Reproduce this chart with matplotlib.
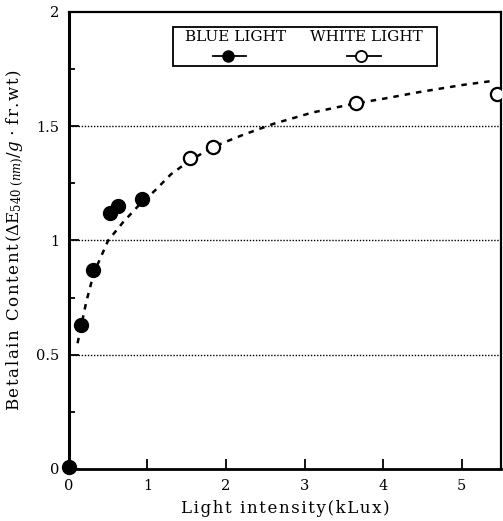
import numpy as np
import matplotlib.pyplot as plt
from matplotlib.lines import Line2D
from matplotlib.patches import Rectangle

plt.rcParams['font.family'] = ['DejaVu Serif']
plt.rcParams['mathtext.fontset'] = 'dejavuserif'

# data
blue_x = [0.0, 0.15, 0.31, 0.52, 0.62, 0.93]
blue_y = [0.01, 0.63, 0.87, 1.12, 1.15, 1.18]
white_x = [1.54, 1.84, 3.65, 5.45]
white_y = [1.36, 1.41, 1.60, 1.64]

# dashed fitted curve (traced)
curve_x = [0.11, 0.22, 0.32, 0.41, 0.50, 0.69, 0.88, 1.10, 1.30, 1.54, 1.84, 2.20, 2.60, 3.10, 3.65, 4.00, 4.47, 5.00, 5.43]
curve_y = [0.55, 0.73, 0.86, 0.93, 1.00, 1.08, 1.15, 1.22, 1.29, 1.35, 1.41, 1.46, 1.51, 1.56, 1.60, 1.62, 1.65, 1.68, 1.70]

grid_levels = [0.5, 1.0, 1.5]
xticks = [0, 1, 2, 3, 4, 5]
yticks = [0, 0.5, 1, 1.5, 2]
ytick_labels = ['0', '0.5', '1', '1.5', '2']


def spaced(s, sp='\u200a'):
    # the scanned labels are letter-spaced
    return sp.join(s)


fig = plt.figure(figsize=(5.03, 5.21), dpi=100)
ax = fig.add_axes([0.137, 0.1, 0.859, 0.877])

for g in grid_levels:
    ax.axhline(g, color='black', lw=1.0, linestyle=(0, (1, 1.2)), zorder=1)

ax.plot(curve_x, curve_y, color='black', lw=1.8, linestyle=(0, (2.2, 2.4)), zorder=2)
ax.plot(blue_x, blue_y, 'o', color='black', ms=10, clip_on=False, zorder=3)
ax.plot(white_x, white_y, 'o', mfc='white', mec='black', mew=1.6, ms=9.5, zorder=3)

ax.set_xlim(0, 5.5)
ax.set_ylim(0, 2)
ax.set_xticks(xticks)
ax.set_xticklabels([str(t) for t in xticks])
ax.set_yticks(yticks)
ax.set_yticklabels(ytick_labels)
ax.set_yticks([0.25, 0.75, 1.25, 1.75], minor=True)
ax.tick_params(axis='both', which='major', direction='in', length=7, width=1.3, labelsize=10.5, pad=7)
ax.tick_params(axis='y', which='minor', direction='in', length=4, width=1.3)
for s in ax.spines.values():
    s.set_linewidth(1.6)
ax.spines['left'].set_linewidth(2.2)
ax.spines['bottom'].set_linewidth(2.0)

ax.set_xlabel(spaced('Light intensity(kLux)'), fontsize=12, labelpad=5)
ylab = (spaced('Betalain Content(') + r'$\Delta$E$_{540\ (nm)}$/$g$ $\cdot$ ' + spaced('fr.wt)'))
ax.set_ylabel(ylab, fontsize=12, labelpad=7)

# hand-drawn legend box
ax.add_patch(Rectangle((0.240, 0.882), 0.612, 0.085, transform=ax.transAxes,
                       fill=False, lw=1.3, ec='black', zorder=5))
ax.text(0.385, 0.945, 'BLUE LIGHT', transform=ax.transAxes, ha='center', va='center', fontsize=11)
ax.text(0.688, 0.945, 'WHITE LIGHT', transform=ax.transAxes, ha='center', va='center', fontsize=11)
ax.add_line(Line2D([0.333, 0.411], [0.903, 0.903], transform=ax.transAxes, color='black', lw=1.3, zorder=6))
ax.plot([0.369], [0.903], 'o', color='black', ms=8, transform=ax.transAxes, zorder=7)
ax.add_line(Line2D([0.644, 0.722], [0.903, 0.903], transform=ax.transAxes, color='black', lw=1.3, zorder=6))
ax.plot([0.676], [0.903], 'o', mfc='white', mec='black', mew=1.3, ms=8, transform=ax.transAxes, zorder=7)

fig.savefig('out.png', dpi=100)
